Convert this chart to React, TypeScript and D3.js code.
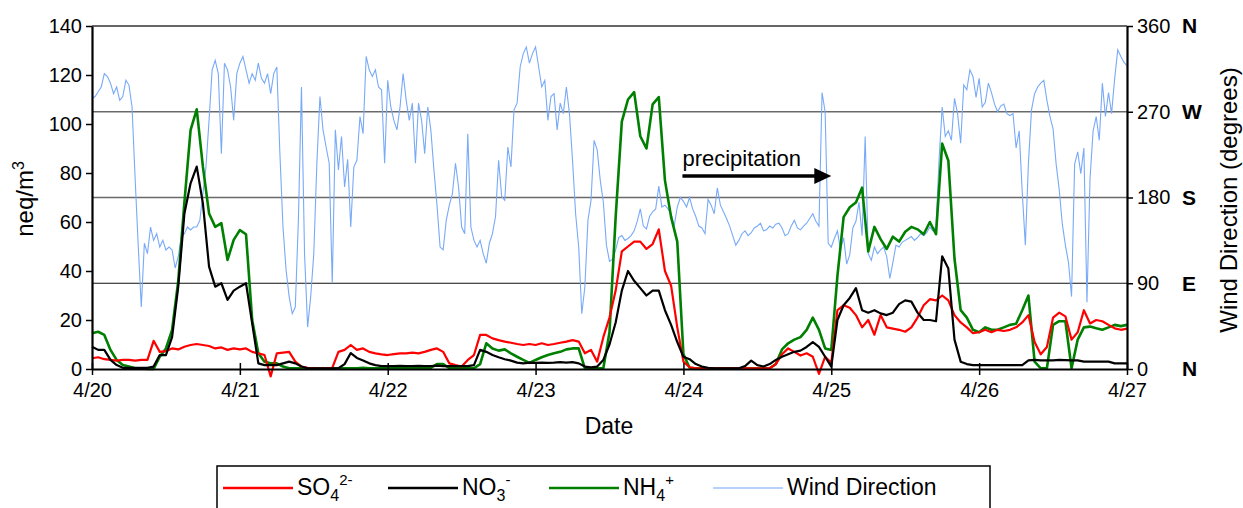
import React, { useEffect, useRef } from "react";
import * as d3 from "d3";

// hours since 4/20 00:00, one value per hour (169 values, 4/20 .. 4/27)
const so4 = [
  4.4, 4.8, 4, 3.7, 3.4, 3.7, 3.7, 3.4, 3.7, 3.7, 11.5, 7,
  7.3, 8.4, 8, 9.1, 9.8, 10.2, 9.8, 9.4, 8.4, 8.8, 7.8, 8.4,
  8, 8.4, 7, 6.4, 5.7, -3, 6.4, 6.7, 7, 3, 1, 0.5,
  0.3, 0.3, 0.3, 0.5, 7, 7.8, 9.8, 7.8, 8.4, 7, 6.4, 6,
  5.7, 6.1, 6.4, 6.4, 6.7, 6.4, 7, 7.8, 8.4, 7, 2.3, 1.6,
  1, 3.7, 5.7, 13.9, 13.9, 12.5, 11.8, 11.2, 10.7, 10.2, 9.8, 10.2,
  9.8, 10.5, 9.8, 10.2, 10.7, 11.2, 11.8, 11.2, 6.4, 7.8, 3, 13,
  21, 32, 48, 50, 52, 52, 49, 51, 57, 40, 34, 17,
  3, 0.7, 0.3, 0.3, 0.3, 0.3, 0.3, 0.3, 0.3, 0.3, 0.3, 0.3,
  0.3, 0.3, 0.3, 2, 6, 8.4, 7, 5.5, 6.4, 5, -2, 5,
  2.5, 24, 26, 25, 22, 17, 20, 14, 22, 17, 16.5, 16,
  15.2, 17, 21, 26, 28.5, 28, 30, 28, 22, 19, 17, 14.6,
  15, 16, 15, 16, 15.5, 16, 17, 19, 22, 11, 6, 9,
  21, 23, 21.5, 12, 15, 24, 18.6, 20, 19.5, 18, 16.6, 16,
  16.5,
];

const no3 = [
  9.1, 7.8, 7.8, 3.7, 1.6, 0.5, 0.5, 0.5, 0.5, 0.5, 1, 5.7,
  5.7, 13, 33.6, 63.5, 75.8, 82.6, 67.6, 41.8, 33.6, 35, 28.2, 32,
  33.6, 35, 18.6, 2.3, 1.6, 1.6, 1.6, 2.3, 3, 2.3, 1, 0.3,
  0.3, 0.3, 0.3, 0.3, 0.3, 2, 6.5, 4.5, 3.5, 2.3, 1.6, 1.2,
  1.2, 1.2, 1.3, 1.2, 1.2, 1.3, 1.2, 1.2, 1.4, 1.2, 1.2, 1.2,
  1.2, 1.2, 1.6, 7.8, 7, 5.7, 4.8, 4, 3.4, 2.6, 2.3, 2.6,
  2.5, 2.6, 2.5, 2.6, 2.8, 2.6, 2.8, 2.3, 1, 0.7, 1, 3.7,
  10, 19, 32, 40, 36, 33, 30, 32, 32, 24, 18, 11,
  5, 4, 2, 1, 0.5, 0.3, 0.3, 0.3, 0.3, 0.3, 1.2, 3.4,
  1.6, 1, 2, 3.7, 5, 6, 7, 7.5, 9, 11, 9, 5,
  1, 20, 26, 29, 33, 24, 23, 24, 22.7, 22, 23, 26.5,
  28, 27.5, 23, 20, 20, 19.5, 46, 41, 12, 3, 2, 1.6,
  1.6, 1.6, 1.6, 1.6, 1.6, 1.6, 1.6, 1.6, 3.5, 3.7, 3.5, 3.5,
  3.5, 3.7, 3.6, 3.5, 3.5, 3, 3, 3, 3, 3, 2.3, 2.3,
  2.3,
];

const nh4 = [
  14.6, 15.2, 13.9, 7.8, 3.7, 1.6, 1, 0.3, 0.3, 0, 0, 5,
  8.4, 16, 36, 68, 97.5, 106, 82.6, 63.5, 58, 59.5, 44.5, 52.7,
  56.7, 55, 20, 6.4, 3, 2.3, 2.3, 1, 0.3, 0.3, 0.3, 0.3,
  0.3, 0.3, 0.2, 0.3, 0.3, 0.3, 0.3, 0.3, 0.5, 0.3, 0.3, 0.3,
  0.3, 0.3, 0.3, 0.3, 0.3, 0.3, 0.3, 0.5, 2, 2, 0.3, 0.3,
  0.3, 0.3, 0.3, 2, 10.5, 8.4, 7.5, 8, 6.4, 5, 3.7, 2.5,
  3.7, 4.8, 5.7, 6.4, 7, 8, 8.4, 8.4, 0.3, 0.3, 0.3, 0.3,
  15, 62, 101, 110, 113, 95, 90, 108, 111, 77, 62, 52,
  6, 0.5, 0.3, 0.3, 0.3, 0.3, 0.3, 0.3, 0.3, 0.3, 0.3, 0.3,
  0.3, 0.3, 0.3, 2, 8, 10.5, 12, 13, 16, 21, 16, 8.4,
  7.8, 38, 62, 66, 68, 74, 48, 58, 53, 49, 54, 52,
  56, 58, 57, 55, 60, 55, 92, 85, 45, 24, 21, 16,
  15, 17, 16, 16, 17, 18, 18.5, 24, 30, 3, 0.3, 0.3,
  18, 19.5, 19.5, 0.3, 12, 17, 17.3, 16.6, 16, 17, 18, 17.5,
  18,
];

// wind direction in degrees, one value per half hour (337 values)
const windDir = [
  284, 286, 291, 296, 310, 307, 300, 289, 296, 282, 286, 303,
  298, 275, 200, 130, 65, 132, 121, 149, 135, 142, 128, 135,
  125, 128, 125, 106, 118, 139, 142, 149, 146, 149, 149, 156,
  184, 212, 261, 314, 324, 310, 226, 321, 314, 296, 261, 310,
  321, 328, 314, 300, 310, 303, 321, 305, 300, 310, 289, 310,
  317, 226, 149, 104, 76, 58, 65, 156, 296, 121, 44, 76,
  121, 216, 286, 251, 233, 216, 90, 251, 209, 244, 191, 220,
  149, 212, 219, 265, 247, 328, 314, 307, 314, 296, 293, 216,
  303, 275, 261, 251, 275, 310, 282, 261, 279, 216, 279, 261,
  226, 275, 251, 209, 172, 128, 125, 156, 172, 184, 216, 191,
  149, 142, 247, 149, 135, 128, 135, 121, 111, 132, 142, 160,
  219, 181, 177, 233, 212, 272, 279, 317, 331, 338, 321, 331,
  338, 317, 296, 303, 261, 286, 289, 251, 279, 268, 296, 268,
  219, 163, 128, 58, 86, 156, 177, 240, 230, 198, 175, 130,
  113, 115, 125, 138, 140, 135, 137, 140, 145, 155, 168, 150,
  147, 160, 165, 168, 192, 170, 172, 168, 163, 150, 170, 180,
  176, 170, 180, 168, 160, 150, 148, 142, 178, 172, 163, 190,
  172, 165, 158, 150, 140, 130, 135, 142, 145, 140, 143, 148,
  150, 153, 145, 146, 150, 148, 152, 153, 148, 140, 142, 150,
  156, 148, 146, 150, 153, 158, 163, 155, 150, 290, 270, 132,
  128, 137, 145, 125, 138, 110, 120, 148, 155, 175, 140, 244,
  121, 114, 128, 121, 125, 128, 118, 95, 112, 130, 128, 133,
  135, 137, 139, 135, 138, 142, 140, 143, 149, 145, 150, 220,
  275, 244, 250, 240, 284, 268, 237, 298, 293, 314, 307, 285,
  305, 275, 280, 300, 290, 278, 270, 276, 278, 268, 266, 268,
  232, 250, 185, 130, 216, 272, 289, 296, 300, 303, 282, 265,
  252, 215, 188, 152, 130, 112, 76, 215, 228, 205, 232, 70,
  200, 250, 265, 240, 300, 265, 290, 268, 305, 335, 328, 322,
  318,
];

const dayLabels = ["4/20", "4/21", "4/22", "4/23", "4/24", "4/25", "4/26", "4/27"];
const leftTicks = [0, 20, 40, 60, 80, 100, 120, 140];
const rightTicks = [0, 90, 180, 270, 360];
const compass = ["N", "E", "S", "W", "N"];
const precipHours = [96, 120];

const W = 1243;
const H = 508;
const plot = { left: 92, right: 1127, top: 26, bottom: 369 };
const font = "'Liberation Sans', Arial, Helvetica, sans-serif";

const colors = { so4: "#ff0000", no3: "#000000", nh4: "#008000", wind: "#78aaf8" };

export default function App() {
  const xAxisRef = useRef<SVGGElement>(null);
  const yAxisRef = useRef<SVGGElement>(null);
  const y2AxisRef = useRef<SVGGElement>(null);

  const x = d3.scaleLinear().domain([0, 168]).range([plot.left, plot.right]);
  const y = d3.scaleLinear().domain([0, 140]).range([plot.bottom, plot.top]);
  const yWind = d3.scaleLinear().domain([0, 360]).range([plot.bottom, plot.top]);

  const chemLine = d3
    .line<number>()
    .x((_, i) => x(i))
    .y((d) => y(d));
  const windLine = d3
    .line<number>()
    .x((_, i) => x(i / 2))
    .y((d) => yWind(d));

  useEffect(() => {
    const xAxis = d3
      .axisBottom(x)
      .tickValues(d3.range(0, 169, 24))
      .tickFormat((_, i) => dayLabels[i])
      .tickSize(6)
      .tickPadding(8)
      .tickSizeOuter(0);
    const yAxis = d3
      .axisLeft(y)
      .tickValues(leftTicks)
      .tickSize(6)
      .tickPadding(4)
      .tickSizeOuter(0);
    const y2Axis = d3
      .axisRight(yWind)
      .tickValues(rightTicks)
      .tickSize(6)
      .tickPadding(4)
      .tickSizeOuter(0);

    const style = (g: d3.Selection<SVGGElement, unknown, null, undefined>) => {
      g.select(".domain").attr("stroke", "#000").attr("stroke-width", 2.2);
      g.selectAll(".tick line").attr("stroke", "#000").attr("stroke-width", 1.5);
      g.selectAll(".tick text")
        .attr("fill", "#000")
        .style("font-family", font)
        .style("font-size", "20px");
    };

    const gx = d3.select(xAxisRef.current!).call(xAxis);
    style(gx);
    // ticks cross the axis
    gx.selectAll(".tick line").attr("y1", -6).attr("y2", 6);
    style(d3.select(yAxisRef.current!).call(yAxis));
    style(d3.select(y2AxisRef.current!).call(y2Axis));
  }, []);

  const legendItems = [
    { key: "so4", base: "SO", sub: "4", sup: "2-", lx: 223 },
    { key: "no3", base: "NO", sub: "3", sup: "-", lx: 388 },
    { key: "nh4", base: "NH", sub: "4", sup: "+", lx: 549 },
    { key: "wind", base: "Wind Direction", sub: "", sup: "", lx: 713 },
  ];

  const ax0 = x(precipHours[0]) - 1;
  const ax1 = x(precipHours[1]);
  const ay = 176;

  return (
    <svg
      width={W}
      height={H}
      style={{ position: "absolute", left: 0, top: 0, background: "#fff" }}
      fontFamily={font}
    >
      <rect x={0} y={0} width={W} height={H} fill="#fff" />

      {/* grid lines on the wind direction axis */}
      <line x1={plot.left} x2={plot.right} y1={yWind(360)} y2={yWind(360)} stroke="#333" strokeWidth={1.6} />
      <line x1={plot.left} x2={plot.right} y1={yWind(270)} y2={yWind(270)} stroke="#6a6a6a" strokeWidth={1.6} />
      <line x1={plot.left} x2={plot.right} y1={yWind(180)} y2={yWind(180)} stroke="#6a6a6a" strokeWidth={1.6} />
      <line x1={plot.left} x2={plot.right} y1={yWind(90)} y2={yWind(90)} stroke="#111" strokeWidth={1} />

      <path d={windLine(windDir) ?? ""} fill="none" stroke={colors.wind} strokeWidth={1.1} />
      <path d={chemLine(nh4) ?? ""} fill="none" stroke={colors.nh4} strokeWidth={2.6} strokeLinejoin="round" />
      <path d={chemLine(so4) ?? ""} fill="none" stroke={colors.so4} strokeWidth={2.2} strokeLinejoin="round" />
      <path d={chemLine(no3) ?? ""} fill="none" stroke={colors.no3} strokeWidth={2.2} strokeLinejoin="round" />

      <g ref={xAxisRef} transform={`translate(0,${plot.bottom})`} />
      <g ref={yAxisRef} transform={`translate(${plot.left},0)`} />
      <g ref={y2AxisRef} transform={`translate(${plot.right},0)`} />

      {/* compass letters */}
      {rightTicks.map((t, i) => (
        <text
          key={t}
          x={1182}
          y={yWind(t)}
          dy="0.35em"
          fontSize={21}
          fontWeight="bold"
        >
          {compass[i]}
        </text>
      ))}

      {/* precipitation annotation */}
      <text x={ax0} y={166} fontSize={22}>
        precipitation
      </text>
      <line x1={ax0} x2={ax1 - 14} y1={ay} y2={ay} stroke="#000" strokeWidth={3.5} />
      <polygon
        points={`${ax1},${ay} ${ax1 - 17},${ay - 8} ${ax1 - 17},${ay + 8}`}
        fill="#000"
      />

      {/* axis titles */}
      <text transform="translate(33,199) rotate(-90)" textAnchor="middle" fontSize={24}>
        neq/m<tspan dy={-9} fontSize={16}>3</tspan>
      </text>
      <text
        transform="translate(1237,200) rotate(-90)"
        textAnchor="middle"
        fontSize={24}
      >
        Wind Direction (degrees)
      </text>
      <text x={609} y={434} textAnchor="middle" fontSize={23}>
        Date
      </text>

      {/* legend */}
      <rect x={217} y={466} width={773} height={60} fill="#fff" stroke="#000" strokeWidth={1.5} />
      {legendItems.map((it) => (
        <g key={it.key}>
          <line
            x1={it.lx}
            x2={it.lx + 70}
            y1={488}
            y2={488}
            stroke={colors[it.key as keyof typeof colors]}
            strokeWidth={it.key === "wind" ? 1.5 : 2.5}
            opacity={it.key === "wind" ? 0.7 : 1}
          />
          <text x={it.lx + 74} y={495} fontSize={23}>
            {it.base}
            {it.sub && (
              <tspan dy={6} fontSize={16}>
                {it.sub}
              </tspan>
            )}
            {it.sup && (
              <tspan dy={-16} fontSize={15}>
                {it.sup}
              </tspan>
            )}
          </text>
        </g>
      ))}
    </svg>
  );
}
